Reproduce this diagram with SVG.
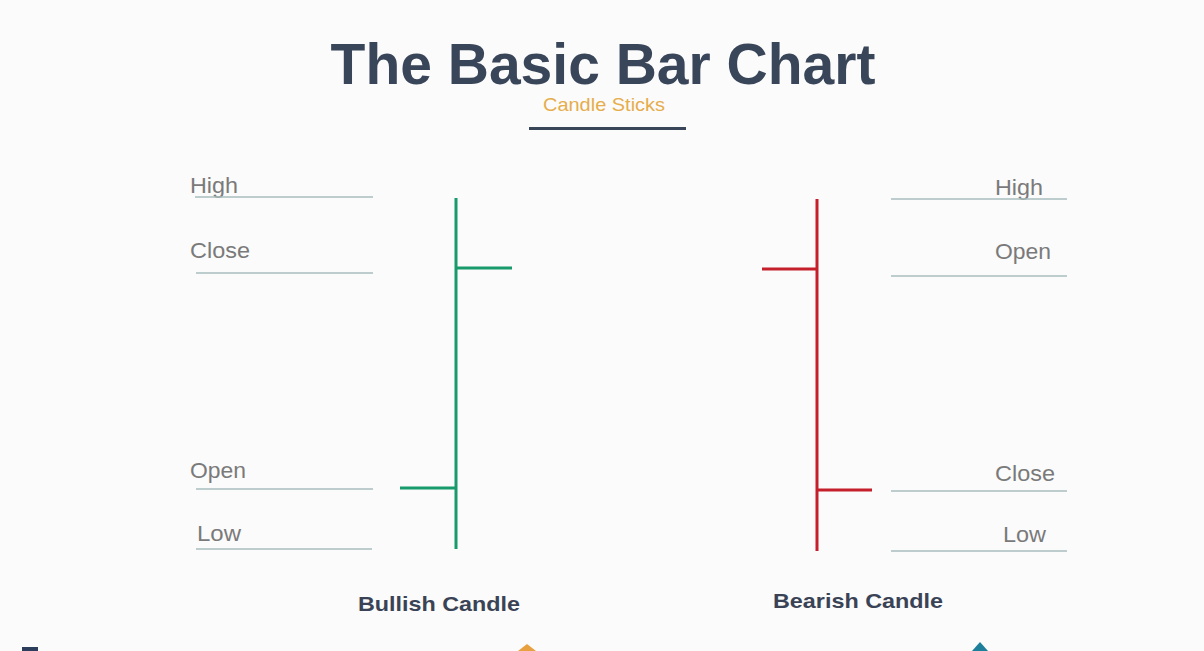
<svg xmlns="http://www.w3.org/2000/svg" width="1204" height="651" viewBox="0 0 1204 651">
<style>
.title{font-family:"Liberation Sans",Arial,sans-serif;font-weight:bold;font-size:57px;fill:#394559}
.sub{font-family:"Liberation Sans",Arial,sans-serif;font-size:19px;fill:#e6ad4c}
.lbl{font-family:"Liberation Sans",Arial,sans-serif;font-size:22px;fill:#7a7a7a}
.cap{font-family:"Liberation Sans",Arial,sans-serif;font-weight:bold;font-size:21px;fill:#3a4356}
.guide{stroke:#a9bcbc;stroke-width:1.5}
.bull{stroke:#199a6c;stroke-width:3;fill:none}
.bear{stroke:#c41f2a;stroke-width:3;fill:none}
</style>
<rect width="1204" height="651" fill="#fbfbfb"/>
<g id="header">
<text class="title" x="603" y="84" text-anchor="middle">The Basic Bar Chart</text>
<text class="sub" x="543" y="111" textLength="122" lengthAdjust="spacingAndGlyphs">Candle Sticks</text>
<rect x="529" y="127" width="157" height="3" fill="#394559"/>
</g>
<g id="bullish-labels">
<text class="lbl" x="190" y="193" textLength="48" lengthAdjust="spacingAndGlyphs">High</text>
<line class="guide" x1="195" y1="197" x2="373" y2="197"/>
<text class="lbl" x="190" y="258" textLength="60" lengthAdjust="spacingAndGlyphs">Close</text>
<line class="guide" x1="196" y1="273" x2="373" y2="273"/>
<text class="lbl" x="190" y="478" textLength="56" lengthAdjust="spacingAndGlyphs">Open</text>
<line class="guide" x1="196" y1="489" x2="373" y2="489"/>
<text class="lbl" x="197" y="541" textLength="44" lengthAdjust="spacingAndGlyphs">Low</text>
<line class="guide" x1="196" y1="549" x2="372" y2="549"/>
</g>
<g id="bullish-candle">
<line class="bull" x1="456" y1="198" x2="456" y2="549"/>
<line class="bull" x1="456" y1="268" x2="512" y2="268"/>
<line class="bull" x1="400" y1="488" x2="456" y2="488"/>
<text class="cap" x="358" y="611" textLength="162" lengthAdjust="spacingAndGlyphs">Bullish Candle</text>
</g>
<g id="bearish-labels">
<text class="lbl" x="995" y="195" textLength="48" lengthAdjust="spacingAndGlyphs">High</text>
<line class="guide" x1="891" y1="199" x2="1067" y2="199"/>
<text class="lbl" x="995" y="259" textLength="56" lengthAdjust="spacingAndGlyphs">Open</text>
<line class="guide" x1="891" y1="276" x2="1067" y2="276"/>
<text class="lbl" x="995" y="481" textLength="60" lengthAdjust="spacingAndGlyphs">Close</text>
<line class="guide" x1="891" y1="491" x2="1067" y2="491"/>
<text class="lbl" x="1003" y="542" textLength="43" lengthAdjust="spacingAndGlyphs">Low</text>
<line class="guide" x1="891" y1="551" x2="1067" y2="551"/>
</g>
<g id="bearish-candle">
<line class="bear" x1="817" y1="199" x2="817" y2="551"/>
<line class="bear" x1="762" y1="269" x2="817" y2="269"/>
<line class="bear" x1="817" y1="490" x2="872" y2="490"/>
<text class="cap" x="773" y="608" textLength="170" lengthAdjust="spacingAndGlyphs">Bearish Candle</text>
</g>
<g id="bottom-edge">
<rect x="22" y="647" width="16" height="4" fill="#2c3e5c"/>
<polygon points="527,644 518,651 536,651" fill="#e8a040"/>
<polygon points="980,642 972,651 988,651" fill="#1d7f9a"/>
</g>
</svg>
